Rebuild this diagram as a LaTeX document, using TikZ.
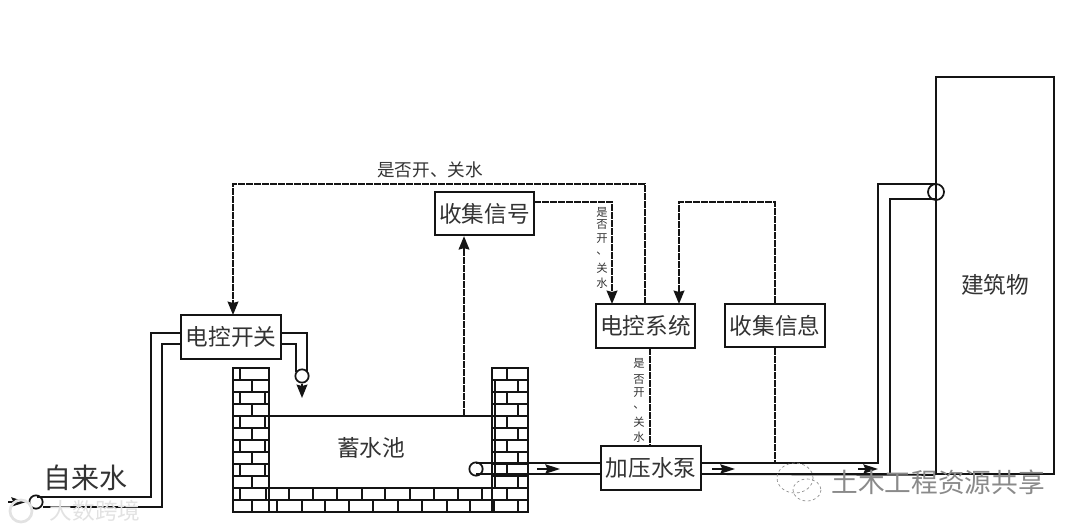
\documentclass[tikz,border=0pt]{standalone}
\usepackage{fontspec}
\setmainfont{Noto Sans CJK SC}
\usetikzlibrary{arrows.meta}
\definecolor{ink}{HTML}{141414}
\definecolor{txt}{HTML}{333333}
\definecolor{wm}{HTML}{E2E2E2}
\definecolor{wmb}{HTML}{8A8A8A}
\tikzset{
  box/.style={draw=ink,line width=1.5pt,fill=white,minimum width=74.5pt,minimum height=32.5pt,inner sep=0pt,text=txt,font=\fontsize{17}{17}\selectfont},
  pipe/.style={draw=ink,line width=1.35pt},
  brick/.style={draw=ink,line width=1.3pt},
  sig/.style={draw=ink,line width=1.6pt,dash pattern=on 5pt off 1pt},
  head/.style={-{Stealth[length=10pt,width=8pt,inset=1pt]}},
  flow/.style={draw=ink,line width=1.3pt,-{Stealth[length=11pt,width=7pt,inset=1.5pt]}},
  valve/.style={draw=ink,line width=1.3pt,circle,minimum size=10pt,inner sep=0pt},
  lab/.style={text=txt,inner sep=0pt,font=\fontsize{17}{17}\selectfont},
  small/.style={text=txt,inner sep=0pt,font=\fontsize{13.2}{13.2}\selectfont},
  tiny/.style={text=txt,inner sep=0pt,font=\fontsize{8.5}{8.5}\selectfont},
}
\begin{document}
\begin{tikzpicture}[x=0.75pt,y=-0.75pt]
\useasboundingbox[fill=white] (0,0) rectangle (1080,530);
% building
\node[draw=ink,line width=1.35pt,minimum width=88.5pt,minimum height=297.75pt,inner sep=0pt] (bld) at (995,275.5) {};
\node[lab] (bldt) at (995,285) {建筑物};
% bricks: walls and floor
\draw[brick] (233,368) rectangle (269,512);
\draw[brick] (492,368) rectangle (528,512);
\draw[brick] (233,512) rectangle (528,488);
\draw[brick] (233,500) -- (528,500);
\foreach \y in {380,392,...,488}{
  \draw[brick] (233,\y) -- (269,\y);
  \draw[brick] (492,\y) -- (528,\y);
}
\draw[brick] (495,380) -- (495,488);
% left wall joints
\foreach \y in {368,392,416,440,464}{ \draw[brick] (240,\y) -- (240,\y+12); }
\foreach \y in {392,416,440,464}{ \draw[brick] (265,\y) -- (265,\y+12); }
\foreach \y in {380,404,428,452,476}{ \draw[brick] (252,\y) -- (252,\y+12); }
% right wall joints
\foreach \y in {368,392,416,440,464}{ \draw[brick] (507,\y) -- (507,\y+12); }
\foreach \y in {380,404,428,452,476}{ \draw[brick] (518,\y) -- (518,\y+12); }
% floor joints
\foreach \x in {240,266,289,313,337,362,385,410,434,458,482,507}{ \draw[brick] (\x,488) -- (\x,500); }
\foreach \x in {252,277,302,325,349,373,398,422,447,470,494,518}{ \draw[brick] (\x,500) -- (\x,512); }
% tank
\draw[brick] (269,416) -- (492,416);
\node[lab] (tank) at (371,448) {蓄水池};
\coordinate (tankOut) at (464,416);
% boxes
\node[box] (sw)   at (231,337)   {电控开关};
\node[box] (col)  at (484.5,213.5) {收集信号};
\node[box] (sys)  at (645.5,326) {电控系统};
\node[box] (info) at (775,325.5) {收集信息};
\node[box] (pump) at (651,468)   {加压水泵};
% valves
\node[valve] (vin)  at (36,502) {};
\node[valve] (vdrop) at (302,376) {};
\node[valve,fill=white] (vtank) at (476,469) {};
\node[valve,minimum size=12pt] (vbld) at (936,192) {};
% named ends
\coordinate (inA) at (37,497);
\coordinate (inB) at (43,507);
\coordinate (swA) at (181,333);
\coordinate (swB) at (181,344);
\coordinate (swC) at (281,333);
\coordinate (swD) at (281,344);
\coordinate (dropA) at (307,372);
\coordinate (dropB) at (296,372);
\coordinate (tankA) at (476,463);
\coordinate (tankB) at (476,474);
\coordinate (pumpA) at (601,463);
\coordinate (pumpB) at (601,474);
\coordinate (pumpC) at (701,463);
\coordinate (pumpD) at (701,474);
\coordinate (bldA) at (936,184);
\coordinate (bldB) at (936,199);
\coordinate (bldC) at (878,463);
\coordinate (bldD) at (890,474);
\coordinate (swTop) at (233,315);
\coordinate (sysA) at (612,304);
\coordinate (sysB) at (645,304);
\coordinate (sysC) at (679,304);
\coordinate (colOut) at (534,202);
\coordinate (infoTop) at (775,303);
\coordinate (infoBot) at (775,348);
\coordinate (pipeTap) at (775,463);
\coordinate (sysBot) at (650,348);
\coordinate (pumpTop) at (650,446);
% pipes
\draw[pipe] (inA) -- (151,497) -- (151,333) -- (swA);
\draw[pipe] (inB) -- (162,507) -- (162,344) -- (swB);
\draw[pipe] (swC) -- (307,333) -- (dropA);
\draw[pipe] (swD) -- (296,344) -- (dropB);
\draw[pipe] (tankA) -- (pumpA);
\draw[pipe] (tankB) -- (pumpB);
\draw[pipe] (pumpC) -- (bldC) -- (878,184) -- (bldA);
\draw[pipe] (pumpD) -- (bldD) -- (890,199) -- (bldB);
\draw[pipe] (pumpD) -- (bld.south west);
% water flow arrows
\coordinate (a1s) at (8,502); \coordinate (a1e) at (26,502);
\draw[flow] (a1s) -- (a1e);
\draw[draw=ink,line width=1.3pt] (a1e) -- (vin);
\coordinate (a2e) at (302,398);
\draw[draw=ink,line width=1.3pt,head] (vdrop) -- (a2e);
\draw[flow] (537,469) -- (560,469);
\draw[flow] (712,469) -- (735,469);
\draw[flow] (858,469) -- (878,469);
% signal lines
\draw[sig,head] (sysB) -- (645,184) -- (233,184) -- (swTop);
\draw[sig,head] (tankOut) -- (col.south -| tankOut);
\draw[sig,head] (colOut) -- (612,202) -- (sysA);
\draw[sig,head] (infoTop) -- (775,202) -- (679,202) -- (sysC);
\draw[sig] (infoBot) -- (pipeTap);
\draw[sig] (sysBot) -- (pumpTop);
% labels
\node[small] (l1) at (430,170) {是否开、关水};
\node[lab,font=\fontsize{21}{21}\selectfont] (l2) at (85,478) {自来水};
\foreach \t/\y in {是/212,否/225,开/239,、/254,关/268,水/283}{ \node[tiny] at (602,\y) {\t}; }
\foreach \t/\y in {是/363,否/380,开/393,、/408,关/422,水/437}{ \node[tiny] at (639,\y) {\t}; }
% watermarks
\draw[wm,line width=2pt] (21,511) circle (11);
\node[text=wm,inner sep=0pt,font=\fontsize{17}{17}\selectfont] (w1) at (95,511) {大数跨境};
\draw[wmb,line width=0.5pt,dash pattern=on 2pt off 2pt] (795,478) ellipse (18 and 15);
\draw[wmb,line width=0.5pt,dash pattern=on 2pt off 2pt] (807,490) ellipse (14 and 11);
\node[text=wmb,inner sep=0pt,font=\fontsize{20}{20}\selectfont] (w2) at (938,482) {土木工程资源共享};
\end{tikzpicture}
\end{document}
